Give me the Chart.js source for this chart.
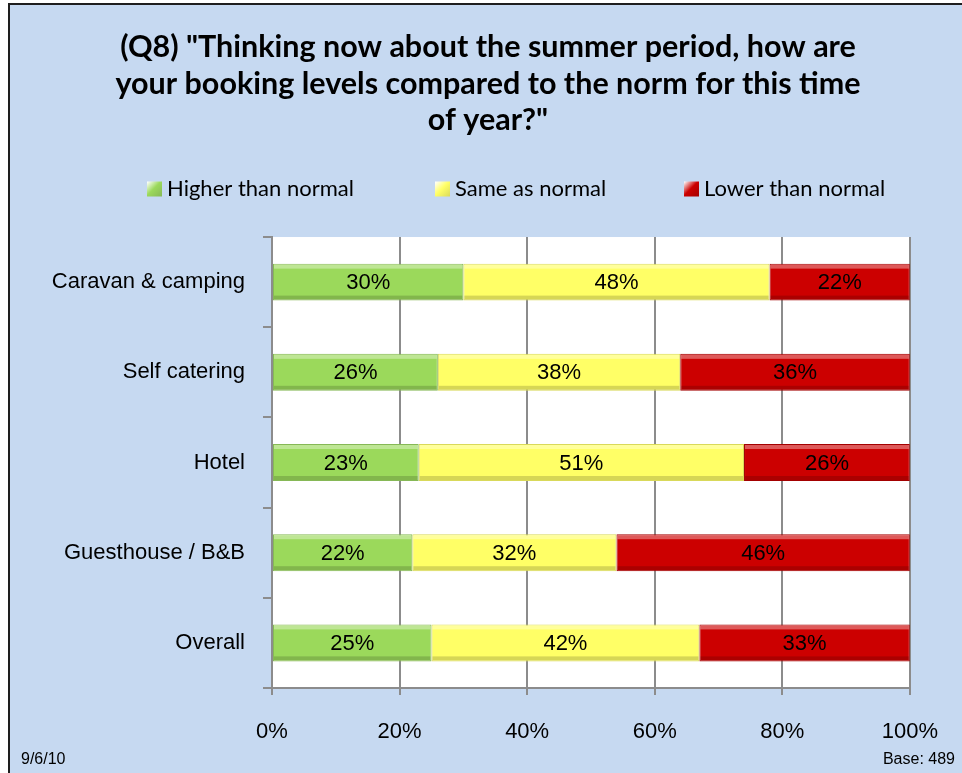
<!DOCTYPE html>
<html>
<head>
<meta charset="utf-8">
<script src="https://cdn.jsdelivr.net/npm/chart.js@4/dist/chart.umd.min.js"></script>
<style>
  html, body { margin: 0; padding: 0; background: #fff; }
  #wrap { width: 962px; height: 773px; }
</style>
</head>
<body>
<div id="wrap"><canvas id="chart" width="962" height="773"></canvas></div>
<script>
// chart data
const categories = ["Caravan & camping", "Self catering", "Hotel", "Guesthouse / B&B", "Overall"];
const seriesNames = ["Higher than normal", "Same as normal", "Lower than normal"];
const higherValues = [30, 26, 23, 22, 25];
const sameValues = [48, 38, 51, 32, 42];
const lowerValues = [22, 36, 26, 46, 33];
const xTickValues = [0, 20, 40, 60, 80, 100];
const titleLines = [
    '(Q8) "Thinking now about the summer period, how are',
    'your booking levels compared to the norm for this time',
    'of year?"'
];
const footLeft = "9/6/10";
const footRight = "Base: 489";

const seriesColors = ["#9BD95B", "#FFFF66", "#CC0000"];
const seriesEdges = ["#86B856", "#D9D95A", "#A30000"];
const gridGray = "#8C8C8C";
const axisFont = { family: "'Liberation Sans', Arial, sans-serif", size: 22 };

// background, frame and white plot area
const backgroundPlugin = {
    id: "background",
    beforeDraw(chart) {
        let ctx = chart.ctx;
        let area = chart.chartArea;
        ctx.save();
        ctx.fillStyle = "#fff";
        ctx.fillRect(0, 0, chart.width, chart.height);
        ctx.fillStyle = "#C6D9F1";
        ctx.fillRect(9, 4, chart.width, chart.height);
        ctx.strokeStyle = "#1E1E1E";
        ctx.lineWidth = 2;
        ctx.strokeRect(9, 4, chart.width + 10, chart.height + 10);
        ctx.fillStyle = "#fff";
        ctx.fillRect(area.left, area.top, area.right - area.left, area.bottom - area.top);
        ctx.restore();
    }
};

// bevel shading + value labels on each bar
const barLabelPlugin = {
    id: "barLabels",
    afterDatasetsDraw(chart) {
        let ctx = chart.ctx;
        ctx.save();
        chart.data.datasets.forEach((ds, di) => {
            let meta = chart.getDatasetMeta(di);
            meta.data.forEach((el, i) => {
                let p = el.getProps(["x", "y", "base", "height"], true);
                let left = Math.min(p.x, p.base);
                let right = Math.max(p.x, p.base);
                let top = p.y - p.height / 2;
                ctx.fillStyle = "rgba(255,255,255,0.35)";
                ctx.fillRect(left + 1, top + 1, right - left - 2, 4);
                ctx.fillStyle = "rgba(0,0,0,0.16)";
                ctx.fillRect(left + 1, top + p.height - 5, right - left - 2, 4);

                ctx.fillStyle = "#000";
                ctx.font = "22px 'Liberation Sans', Arial, sans-serif";
                ctx.textAlign = "center";
                ctx.textBaseline = "middle";
                ctx.fillText(ds.data[i] + "%", (left + right) / 2, p.y + 1);
            });
        });
        ctx.restore();
    }
};

// legend row and footer notes
const legendFooterPlugin = {
    id: "legendFooter",
    afterDraw(chart) {
        let ctx = chart.ctx;
        ctx.save();
        ctx.font = "22px Lato, 'Open Sans', sans-serif";
        ctx.textBaseline = "middle";
        ctx.textAlign = "left";
        let itemStarts = [147, 435, 684];
        let cy = 189;
        chart.data.datasets.forEach((ds, i) => {
            let x = itemStarts[i];
            let g = ctx.createLinearGradient(x, cy - 7, x + 15, cy + 8);
            g.addColorStop(0, "#fff");
            g.addColorStop(0.45, seriesColors[i]);
            g.addColorStop(1, seriesEdges[i]);
            ctx.fillStyle = g;
            ctx.fillRect(x, cy - 7.5, 15, 15);
            ctx.fillStyle = "#000";
            ctx.fillText(ds.label, x + 20, cy);
        });

        ctx.font = "16px 'Liberation Sans', Arial, sans-serif";
        ctx.textBaseline = "alphabetic";
        ctx.fillText(footLeft, 21, 764);
        ctx.textAlign = "right";
        ctx.fillText(footRight, 955, 764);
        ctx.restore();
    }
};

let ctx = document.getElementById("chart").getContext("2d");

new Chart(ctx, {
    type: "bar",
    data: {
        labels: categories,
        datasets: [higherValues, sameValues, lowerValues].map((vals, i) => ({
            label: seriesNames[i],
            data: vals,
            backgroundColor: seriesColors[i],
            borderColor: seriesEdges[i],
            borderWidth: 1,
            borderSkipped: false,
            barPercentage: 0.41,
            categoryPercentage: 1
        }))
    },
    options: {
        indexAxis: "y",
        responsive: false,
        animation: false,
        layout: { padding: { left: 14, right: 0, top: 4, bottom: 0 } },
        plugins: {
            legend: { display: false },
            tooltip: { enabled: false },
            title: {
                display: true,
                text: titleLines,
                color: "#000",
                font: { family: "Lato, 'Open Sans', sans-serif", size: 30.5, weight: "bold", lineHeight: 1.197 },
                padding: { top: 25, bottom: 98.5 }
            }
        },
        scales: {
            x: {
                stacked: true,
                min: 0,
                max: 100,
                afterBuildTicks: s => { s.ticks = xTickValues.map(v => ({ value: v })); },
                afterFit: s => { s.height = 85; },
                grid: { color: gridGray, lineWidth: 2, tickLength: 7, tickColor: gridGray },
                border: { color: gridGray, width: 2 },
                ticks: {
                    color: "#000",
                    font: axisFont,
                    padding: 24,
                    maxRotation: 0,
                    callback: v => v + "%"
                }
            },
            y: {
                stacked: true,
                afterFit: s => { s.width = 258; },
                grid: { display: true, drawOnChartArea: false, offset: true, color: gridGray, lineWidth: 2, tickLength: 9 },
                border: { color: gridGray, width: 2 },
                ticks: { color: "#000", font: axisFont, padding: 18 }
            },
            pad: {
                type: "linear",
                position: "right",
                display: true,
                afterFit: s => { s.width = 52; },
                grid: { display: false },
                border: { display: false },
                ticks: { display: false }
            }
        }
    },
    plugins: [backgroundPlugin, barLabelPlugin, legendFooterPlugin]
});
</script>
</body>
</html>
